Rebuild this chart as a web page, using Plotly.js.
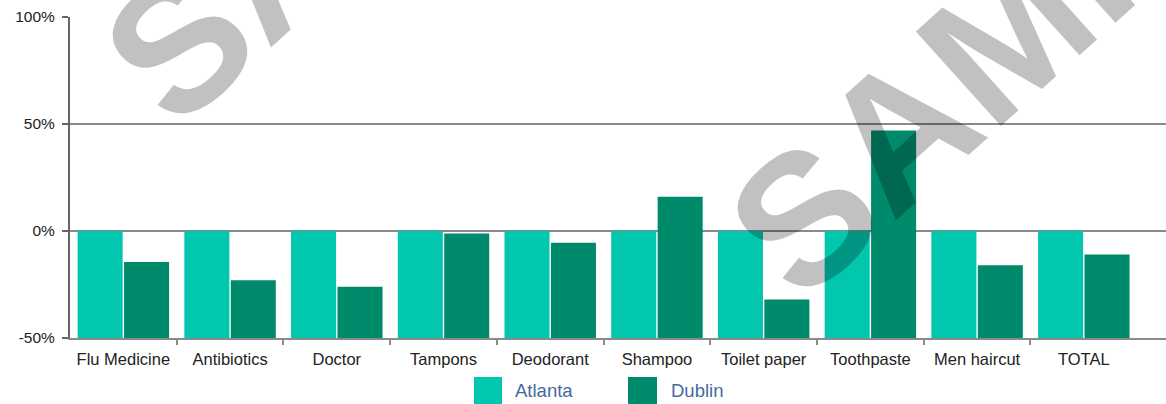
<!DOCTYPE html>
<html><head><meta charset="utf-8">
<script src="https://cdn.plot.ly/plotly-3.0.1.min.js"></script>
<style>html,body{margin:0;padding:0;background:#fff;} #chart{width:1166px;height:404px;}</style>
</head><body><div id="chart"></div>
<script>
const categories = ['Flu Medicine','Antibiotics','Doctor','Tampons','Deodorant','Shampoo','Toilet paper','Toothpaste','Men haircut','TOTAL'];
const seriesNames = ['Atlanta','Dublin'];
const atlantaValues = [0,0,0,0,0,0,0,0,0,0];
const dublinValues = [-14.5,-23,-26,-1.2,-5.5,16,-32,47,-16,-11];
const seriesColors = ['#00C7AE','#008A6C'];
const yTickVals = [-50,0,50,100];
const yTickText = ['-50%','0%','50%','100%'];
const axisBase = -50;
const watermarkText = 'SAMPLE';

const FONT = 'Liberation Sans, Arial, Helvetica, sans-serif';
const seriesValues = [atlantaValues, dublinValues];
const xRange = [-0.5, 9.77];

const traces = seriesNames.map((name, i) => ({
  type: 'bar',
  name: name,
  x: categories,
  y: seriesValues[i].map(v => v - axisBase),
  base: axisBase,
  marker: {color: seriesColors[i], line: {width: 0}},
  customdata: seriesValues[i],
  showlegend: false
}));
// empty helper trace so the boundary-tick axis is drawn
traces.push({type: 'scatter', x: [], y: [], xaxis: 'x2', yaxis: 'y', showlegend: false, hoverinfo: 'skip'});

// manual legend (big square swatches)
const legendBoxes = [[474, 502], [628, 657]];
const legendTextX = [513, 669];
const plotL = 70, plotW = 1096, plotB = 338, plotH = 321;
const px = p => (p - plotL) / plotW;
const py = p => (plotB - p) / plotH;

const shapes = seriesNames.map((name, i) => ({
  type: 'rect', xref: 'paper', yref: 'paper',
  x0: px(legendBoxes[i][0]), x1: px(legendBoxes[i][1]),
  y0: py(377), y1: py(406),
  fillcolor: seriesColors[i], line: {width: 0}
}));

const annotations = seriesNames.map((name, i) => ({
  xref: 'paper', yref: 'paper', x: px(legendTextX[i]), y: py(391),
  xanchor: 'left', yanchor: 'middle', showarrow: false,
  text: name, font: {family: FONT, size: 18.5, color: '#46699f'}
}));

[[1044, 1], [419, -172]].forEach(c => {
  annotations.push({
    xref: 'paper', yref: 'paper', x: px(c[0]), y: py(c[1]),
    xanchor: 'center', yanchor: 'middle', showarrow: false,
    text: watermarkText, textangle: -42,
    font: {family: FONT, size: 185, weight: 'bold', color: 'rgba(0,0,0,0.245)'}
  });
});

// category boundary ticks (between categories only)
const boundaryTicks = categories.slice(1).map((c, i) => i + 0.5);

const layout = {
  width: 1166, height: 404,
  margin: {l: 70, r: 0, t: 17, b: 66},
  paper_bgcolor: '#fff', plot_bgcolor: '#fff',
  barmode: 'group', bargap: 0.13, bargroupgap: 0.03,
  showlegend: false,
  xaxis: {
    type: 'category', range: xRange, fixedrange: true,
    showline: true, linecolor: '#8a8a8a', linewidth: 2,
    ticks: '', ticklabelstandoff: 5,
    showgrid: false, zeroline: false,
    tickfont: {family: FONT, size: 16.5, color: '#222'}
  },
  xaxis2: {
    overlaying: 'x', anchor: 'y', side: 'bottom', type: 'linear',
    range: xRange, fixedrange: true,
    tickvals: boundaryTicks, showticklabels: false,
    ticks: 'outside', ticklen: 6, tickwidth: 2, tickcolor: '#8a8a8a',
    showgrid: false, zeroline: false, showline: false
  },
  yaxis: {
    range: [-50, 100], fixedrange: true,
    tickvals: yTickVals, ticktext: yTickText,
    showline: true, linecolor: '#666', linewidth: 2,
    ticks: 'outside', ticklen: 6, tickwidth: 2, tickcolor: '#666',
    ticklabelstandoff: 4,
    showgrid: true, gridcolor: '#8a8a8a', gridwidth: 1.5, zeroline: false,
    tickfont: {family: FONT, size: 15.5, color: '#222'}
  },
  shapes: shapes,
  annotations: annotations
};

Plotly.newPlot('chart', traces, layout, {displayModeBar: false, staticPlot: true});
</script>
</body></html>
